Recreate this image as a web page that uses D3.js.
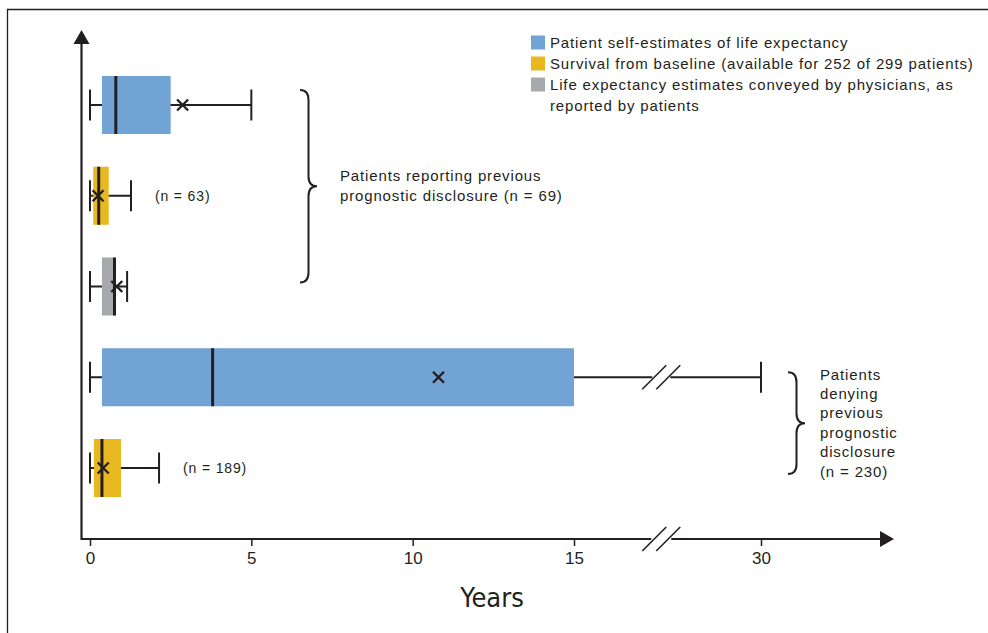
<!DOCTYPE html>
<html>
<head>
<meta charset="utf-8">
<script src="https://cdn.jsdelivr.net/npm/d3@7"></script>
<style>
  body { margin: 0; background: #fff; }
  svg { display: block; }
  text { fill: #231f20; font-family: "Liberation Sans", Arial, sans-serif; }
  .lbl { font-size: 15px; letter-spacing: 0.85px; }
</style>
</head>
<body>
<svg width="988" height="633"></svg>
<script>
// rows, top to bottom
var rows = ["self-prev", "surv-prev", "phys-prev", "self-deny", "surv-deny"];
var rowSeries = ["self", "surv", "phys", "self", "surv"];
var whiskerLo = [0, 0, 0, 0, 0];
var q1 = [0.37, 0.1, 0.37, 0.37, 0.12];
var median = [0.8, 0.27, 0.76, 3.8, 0.37];
var q3 = [2.5, 0.58, 0.78, 15, 0.96];
var whiskerHi = [5, 1.27, 1.15, 30, 2.14];
var mean = [2.87, 0.25, 0.83, 10.8, 0.41];
var nLabels = ["", "(n = 63)", "", "", "(n = 189)"];

var xTicks = [0, 5, 10, 15, 30];
var xBreak = 22; // where the axis is broken

var seriesKeys = ["self", "surv", "phys"];
var seriesColors = ["#71a3d5", "#e8b820", "#a7a9ac"];
var legendLabels = [
    ["Patient self-estimates of life expectancy"],
    ["Survival from baseline (available for 252 of 299 patients)"],
    ["Life expectancy estimates conveyed by physicians, as", "reported by patients"]
];

var groupRows = [[0, 2], [3, 4]];
var groupLabels = [
    ["Patients reporting previous", "prognostic disclosure (n = 69)"],
    ["Patients", "denying", "previous", "prognostic", "disclosure", "(n = 230)"]
];

var svg = d3.select("svg");
var ink = "#231f20";

// frame
svg.append("path")
    .attr("d", "M7.5,640 L7.5,9.5 L990,9.5")
    .attr("fill", "none").attr("stroke", ink).attr("stroke-width", 1.3);

var axisY = 539, axisX = 81.5;

var x = d3.scaleLinear().domain([0, 15, 30]).range([90, 574, 761]);
var y = d3.scalePoint().domain(rows).range([105, 468]);
var color = d3.scaleOrdinal().domain(seriesKeys).range(seriesColors);
var boxH = 58, capH = 31;

// x axis ticks
var xAxis = svg.append("g")
    .attr("transform", "translate(0," + axisY + ")")
    .call(d3.axisBottom(x).tickValues(xTicks).tickSize(7).tickPadding(6));
xAxis.select(".domain").remove();
xAxis.selectAll(".tick line").attr("stroke", ink).attr("stroke-width", 1.5);
xAxis.selectAll(".tick text")
    .style("font-family", "'Liberation Sans', Arial, sans-serif")
    .style("font-size", "17px").attr("fill", ink);

// axis lines with break
var bx = x(xBreak);
svg.append("line").attr("x1", axisX).attr("x2", bx - 10).attr("y1", axisY).attr("y2", axisY)
    .attr("stroke", ink).attr("stroke-width", 2.2);
svg.append("line").attr("x1", bx + 10).attr("x2", 882).attr("y1", axisY).attr("y2", axisY)
    .attr("stroke", ink).attr("stroke-width", 2.2);
svg.append("path").attr("d", "M880," + (axisY - 8) + " L894," + axisY + " L880," + (axisY + 8) + "Z")
    .attr("fill", ink);
svg.append("line").attr("x1", axisX).attr("x2", axisX).attr("y1", axisY + 1).attr("y2", 42)
    .attr("stroke", ink).attr("stroke-width", 2.2);
svg.append("path").attr("d", "M" + (axisX - 8) + ",44 L" + axisX + ",30 L" + (axisX + 8) + ",44Z")
    .attr("fill", ink);

function breakMarks(cy) {
    [-7, 7].forEach(function(o) {
        svg.append("line")
            .attr("x1", bx + o - 12).attr("y1", cy + 12)
            .attr("x2", bx + o + 12).attr("y2", cy - 12)
            .attr("stroke", ink).attr("stroke-width", 1.6);
    });
}
breakMarks(axisY);

svg.append("text")
    .attr("x", 492).attr("y", 607)
    .attr("text-anchor", "middle")
    .style("font-family", "'Liberation Sans Narrow', 'DejaVu Sans Condensed', 'Arial Narrow', sans-serif")
    .style("font-size", "27px")
    .text("Years");

// box plots
rows.forEach(function(r, i) {
    var cy = y(r);
    var g = svg.append("g");
    var hi = whiskerHi[i];
    // whisker
    if (hi > xBreak) {
        g.append("line").attr("x1", x(whiskerLo[i])).attr("x2", bx - 9)
            .attr("y1", cy).attr("y2", cy).attr("stroke", ink).attr("stroke-width", 2);
        g.append("line").attr("x1", bx + 9).attr("x2", x(hi))
            .attr("y1", cy).attr("y2", cy).attr("stroke", ink).attr("stroke-width", 2);
        breakMarks(cy);
    } else {
        g.append("line").attr("x1", x(whiskerLo[i])).attr("x2", x(hi))
            .attr("y1", cy).attr("y2", cy).attr("stroke", ink).attr("stroke-width", 2);
    }
    [whiskerLo[i], hi].forEach(function(v) {
        g.append("line").attr("x1", x(v)).attr("x2", x(v))
            .attr("y1", cy - capH / 2).attr("y2", cy + capH / 2)
            .attr("stroke", ink).attr("stroke-width", 2);
    });
    g.append("rect")
        .attr("x", x(q1[i])).attr("width", x(q3[i]) - x(q1[i]))
        .attr("y", cy - boxH / 2).attr("height", boxH)
        .attr("fill", color(rowSeries[i]));
    g.append("line").attr("x1", x(median[i])).attr("x2", x(median[i]))
        .attr("y1", cy - boxH / 2).attr("y2", cy + boxH / 2)
        .attr("stroke", ink).attr("stroke-width", 3);
    var mx = x(mean[i]), s = 5.5;
    g.append("path")
        .attr("d", "M" + (mx - s) + "," + (cy - s) + "L" + (mx + s) + "," + (cy + s) +
                   "M" + (mx - s) + "," + (cy + s) + "L" + (mx + s) + "," + (cy - s))
        .attr("stroke", ink).attr("stroke-width", 2.4);
    if (nLabels[i]) {
        g.append("text").attr("class", "lbl").attr("x", x(hi) + 24).attr("y", cy + 5)
            .style("font-size", "14px").text(nLabels[i]);
    }
});

// group braces
function brace(xl, y0, y1, w) {
    var xm = xl + w / 2, xt = xl + w, ym = (y0 + y1) / 2, c = 10;
    return "M" + xl + "," + y0 + " Q" + xm + "," + y0 + " " + xm + "," + (y0 + c) +
        " L" + xm + "," + (ym - c) + " Q" + xm + "," + ym + " " + xt + "," + ym +
        " Q" + xm + "," + ym + " " + xm + "," + (ym + c) +
        " L" + xm + "," + (y1 - c) + " Q" + xm + "," + y1 + " " + xl + "," + y1;
}
var braceX = [300, 788];
var braceExt = [[-15, -4], [-5, 6]];
var labelX = [340, 820];
groupRows.forEach(function(gr, k) {
    var y0 = y(rows[gr[0]]) + braceExt[k][0], y1 = y(rows[gr[1]]) + braceExt[k][1];
    svg.append("path").attr("d", brace(braceX[k], y0, y1, 17))
        .attr("fill", "none").attr("stroke", ink).attr("stroke-width", 2);
    var lines = groupLabels[k], lh = k === 0 ? 20 : 19.4;
    var ym = (y0 + y1) / 2 - (lines.length - 1) * lh / 2;
    lines.forEach(function(t, j) {
        svg.append("text").attr("class", "lbl").attr("x", labelX[k]).attr("y", ym + j * lh + 5)
            .text(t);
    });
});

// legend
var ly = 42;
legendLabels.forEach(function(lines, i) {
    svg.append("rect").attr("x", 531).attr("y", ly - 6.5).attr("width", 14).attr("height", 14)
        .attr("fill", seriesColors[i]);
    lines.forEach(function(t, j) {
        svg.append("text").attr("class", "lbl").attr("x", 550).attr("y", ly + 5.5 + j * 21)
            .text(t);
    });
    ly += 21 * lines.length;
});
</script>
</body>
</html>
